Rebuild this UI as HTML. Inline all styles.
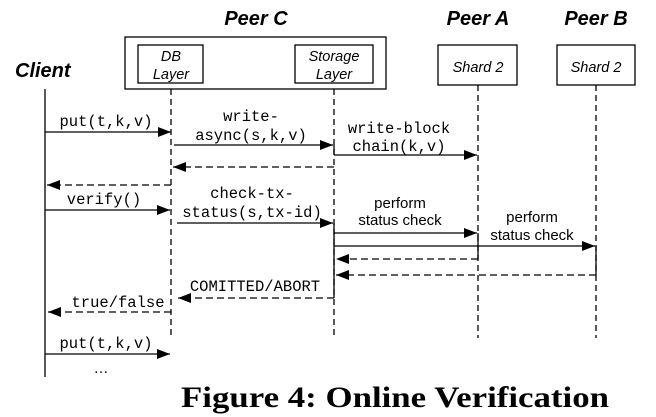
<!DOCTYPE html>
<html><head><meta charset="utf-8"><style>
html,body{margin:0;padding:0;background:#fff;width:656px;height:417px;overflow:hidden}
svg{display:block}
.m{font-family:"Liberation Mono",monospace;font-size:15.5px;fill:#000}
.s{font-family:"Liberation Sans",sans-serif;font-size:15px;fill:#000}
.i{font-family:"Liberation Sans",sans-serif;font-size:14.5px;font-style:italic;fill:#000}
.h{font-family:"Liberation Sans",sans-serif;font-size:20px;font-weight:bold;font-style:italic;fill:#000}
</style></head><body>
<svg width="656" height="417" viewBox="0 0 656 417">
<defs><marker id="a" markerWidth="13" markerHeight="10" refX="13" refY="5" orient="auto" markerUnits="userSpaceOnUse"><path d="M0,0 L13,5 L0,10 z" fill="#000"/></marker></defs>
<g>
<text class="h" x="15" y="77">Client</text>
<text class="h" x="256" y="25" text-anchor="middle">Peer C</text>
<text class="h" x="478" y="25" text-anchor="middle">Peer A</text>
<text class="h" x="596" y="25" text-anchor="middle">Peer B</text>
<rect x="125" y="37" width="261" height="52" fill="none" stroke="#000" stroke-width="1.3"/>
<rect x="138" y="45" width="65" height="38" fill="none" stroke="#000" stroke-width="1.3"/>
<text class="i" x="171" y="61" text-anchor="middle">DB</text><text class="i" x="171" y="79" text-anchor="middle">Layer</text>
<rect x="295" y="45" width="78" height="38" fill="none" stroke="#000" stroke-width="1.3"/>
<text class="i" x="334" y="61" text-anchor="middle">Storage</text><text class="i" x="334" y="79" text-anchor="middle">Layer</text>
<rect x="438" y="45" width="79" height="40" fill="none" stroke="#000" stroke-width="1.3"/>
<text class="i" x="478" y="72" text-anchor="middle">Shard 2</text>
<rect x="557" y="45" width="78" height="40" fill="none" stroke="#000" stroke-width="1.3"/>
<text class="i" x="596" y="72" text-anchor="middle">Shard 2</text>
</g>
<g stroke="#000" stroke-width="1.3" fill="none">
<line x1="45" y1="89" x2="45" y2="377"/>
<line x1="171" y1="89" x2="171" y2="338" stroke-dasharray="6,4"/>
<line x1="334" y1="89" x2="334" y2="338" stroke-dasharray="6,4"/>
<line x1="334" y1="145" x2="334" y2="155"/>
<line x1="334" y1="223" x2="334" y2="298"/>
<line x1="478" y1="85" x2="478" y2="338" stroke-dasharray="6,4"/>
<line x1="478" y1="233" x2="478" y2="259"/>
<line x1="596" y1="85" x2="596" y2="338" stroke-dasharray="6,4"/>
<line x1="596" y1="246" x2="596" y2="275"/>
</g>
<g stroke="#000" stroke-width="1.3">
<line x1="45" y1="132" x2="171" y2="132" marker-end="url(#a)"/>
<line x1="174" y1="145" x2="333" y2="145" marker-end="url(#a)"/>
<line x1="334" y1="155" x2="477" y2="155" marker-end="url(#a)"/>
<line x1="334" y1="167" x2="173" y2="167" stroke-dasharray="7,4" marker-end="url(#a)"/>
<line x1="171" y1="185" x2="47" y2="185" stroke-dasharray="7,4" marker-end="url(#a)"/>
<line x1="45" y1="210" x2="170" y2="210" marker-end="url(#a)"/>
<line x1="177" y1="223" x2="333" y2="223" marker-end="url(#a)"/>
<line x1="334" y1="233" x2="477" y2="233" marker-end="url(#a)"/>
<line x1="334" y1="246" x2="595" y2="246" marker-end="url(#a)"/>
<line x1="478" y1="259" x2="336" y2="259" stroke-dasharray="7,4" marker-end="url(#a)"/>
<line x1="596" y1="275" x2="336" y2="275" stroke-dasharray="7,4" marker-end="url(#a)"/>
<line x1="334" y1="298" x2="178" y2="298" stroke-dasharray="7,4" marker-end="url(#a)"/>
<line x1="171" y1="312" x2="48" y2="312" stroke-dasharray="7,4" marker-end="url(#a)"/>
<line x1="45" y1="354" x2="170" y2="354" marker-end="url(#a)"/>
</g>
<g>
<text class="m" x="106" y="126" text-anchor="middle">put(t,k,v)</text>
<text class="m" x="251" y="121" text-anchor="middle">write-</text>
<text class="m" x="251" y="140" text-anchor="middle">async(s,k,v)</text>
<text class="m" x="399" y="133" text-anchor="middle">write-block</text>
<text class="m" x="399" y="151" text-anchor="middle">chain(k,v)</text>
<text class="m" x="104" y="204" text-anchor="middle">verify()</text>
<text class="m" x="252" y="198" text-anchor="middle">check-tx-</text>
<text class="m" x="252" y="217" text-anchor="middle">status(s,tx-id)</text>
<text class="s" x="400" y="208" text-anchor="middle">perform</text>
<text class="s" x="400" y="225" text-anchor="middle">status check</text>
<text class="s" x="532" y="222" text-anchor="middle">perform</text>
<text class="s" x="532" y="240" text-anchor="middle">status check</text>
<text class="m" x="255" y="291" text-anchor="middle">COMITTED/ABORT</text>
<text class="m" x="118" y="307" text-anchor="middle">true/false</text>
<text class="m" x="106" y="348" text-anchor="middle">put(t,k,v)</text>
<text class="s" x="101" y="373" text-anchor="middle">…</text>
</g>
<text x="181" y="407" font-family="Liberation Serif,serif" font-weight="bold" font-size="30" textLength="428" lengthAdjust="spacingAndGlyphs">Figure 4:  Online Verification</text>
</svg>
</body></html>
